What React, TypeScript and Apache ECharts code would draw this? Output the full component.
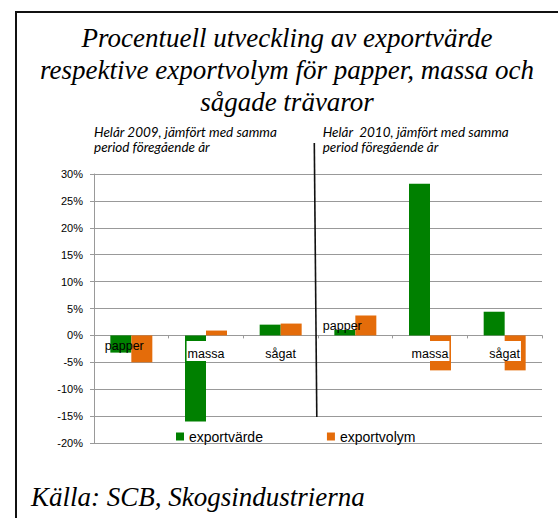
import React, { useEffect, useRef } from 'react';
import * as echarts from 'echarts';

const categories = ['papper', 'massa', 'sågat', 'papper', 'massa', 'sågat'];
const exportvarde = [-3.2, -16.0, 2.0, 1.0, 28.2, 4.4];
const exportvolym = [-5.0, 0.9, 2.2, 3.7, -6.5, -6.5];
const seriesNames = ['exportvärde', 'exportvolym'];
const seriesColors = ['#008000', '#E46C0A'];
const yMin = -20;
const yMax = 30;
const yStep = 5;
const titleText =
  'Procentuell utveckling av exportvärde\nrespektive exportvolym för papper, massa och\nsågade trävaror';
const subtitle2009 = ['Helår 2009, jämfört med samma', 'period föregående år'];
const subtitle2010 = ['Helår  2010, jämfört med samma', 'period föregående år'];
const sourceText = 'Källa: SCB, Skogsindustrierna';

const SERIF = '"Liberation Serif", "Times New Roman", serif';
const SANS = '"Liberation Sans", Arial, sans-serif';

export default function App() {
  const ref = useRef<HTMLDivElement>(null);

  useEffect(() => {
    document.body.style.margin = '0';
    if (!ref.current) return;
    const chart = echarts.init(ref.current, null, { renderer: 'svg' });

    const subtitleTexts: any[] = [];
    [
      { lines: subtitle2009, x: 94 },
      { lines: subtitle2010, x: 322.7 },
    ].forEach((s) => {
      s.lines.forEach((line, i) => {
        subtitleTexts.push({
          type: 'text',
          x: s.x,
          y: 132 + i * 15,
          style: {
            text: line,
            font: `italic 13.5px Lato, sans-serif`,
            fill: '#000',
            textAlign: 'left',
            textVerticalAlign: 'middle',
          },
        });
      });
    });

    const option: any = {
      animation: false,
      backgroundColor: '#ffffff',
      grid: { left: 94, right: 16, top: 174, bottom: 75, containLabel: false },
      legend: {
        data: seriesNames,
        left: 171,
        top: 424.5,
        icon: 'rect',
        itemWidth: 8,
        itemHeight: 8,
        itemGap: 64,
        textStyle: { fontFamily: SANS, fontSize: 14, color: '#000' },
      },
      xAxis: {
        type: 'category',
        data: categories,
        axisLine: { onZero: true, lineStyle: { color: '#999', width: 1 } },
        axisTick: { show: true, length: 3, lineStyle: { color: '#999' } },
        splitLine: { show: false },
        axisLabel: { show: false },
      },
      yAxis: {
        type: 'value',
        min: yMin,
        max: yMax,
        interval: yStep,
        axisLine: { show: true, lineStyle: { color: '#999', width: 1 } },
        axisTick: { show: true, length: 4, lineStyle: { color: '#999' } },
        splitLine: { show: true, lineStyle: { color: '#999', width: 1 } },
        axisLabel: {
          formatter: '{value}%',
          margin: 11,
          color: '#000',
          fontFamily: SANS,
          fontSize: 11,
        },
      },
      series: [
        {
          name: seriesNames[0],
          type: 'bar',
          data: exportvarde,
          barWidth: 21,
          barGap: '0%',
          itemStyle: { color: seriesColors[0] },
        },
        {
          name: seriesNames[1],
          type: 'bar',
          data: exportvolym,
          barWidth: 21,
          barGap: '0%',
          itemStyle: { color: seriesColors[1] },
        },
        {
          name: 'kategorier',
          type: 'scatter',
          silent: true,
          z: 5,
          symbolSize: 0,
          itemStyle: { opacity: 1 },
          data: categories.map(() => 0),
          label: {
            show: true,
            position: 'bottom',
            distance: 0,
            offset: [0, -17],
            opacity: 1,
            color: '#000',
            fontFamily: SANS,
            fontSize: 12.5,
            formatter: (p: any) => {
              const value = categories[p.dataIndex];
              if (value === 'papper') {
                return p.dataIndex < 3 ? `{sp| }\n{pa|${value}}` : `{pc|${value}}`;
              }
              return `{s| }\n{m|${value}}`;
            },
            rich: {
              sp: { fontSize: 1, lineHeight: 19.4 },
              pa: {
                fontFamily: SANS,
                fontSize: 12.5,
                color: '#000',
                lineHeight: 16,
                padding: [0, 14, 0, 0],
              },
              pc: {
                fontFamily: SANS,
                fontSize: 12.5,
                color: '#000',
                lineHeight: 16,
                padding: [0, 26, 0, 0],
              },
              s: { fontSize: 1, lineHeight: 22 },
              m: {
                fontFamily: SANS,
                fontSize: 12.5,
                color: '#000',
                lineHeight: 21,
                backgroundColor: '#ffffff',
                padding: [7, 1, 0, 1],
              },
            },
          },
        },
      ],
      graphic: [
        {
          type: 'rect',
          silent: true,
          z: -10,
          shape: { x: 16, y: 12, width: 700, height: 700 },
          style: { fill: 'none', stroke: '#111', lineWidth: 2 },
        },
        {
          type: 'text',
          x: 287,
          y: 21.6,
          style: {
            text: titleText,
            font: `italic 27px ${SERIF}`,
            fill: '#000',
            textAlign: 'center',
            textVerticalAlign: 'top',
            lineHeight: 32,
          },
        },
        ...subtitleTexts,
        {
          type: 'line',
          silent: true,
          z: 10,
          shape: { x1: 314.3, y1: 143, x2: 316.8, y2: 417 },
          style: { stroke: '#111', lineWidth: 1.6 },
        },
        {
          type: 'text',
          x: 31,
          y: 496.6,
          style: {
            text: sourceText,
            font: `italic 27px ${SERIF}`,
            fill: '#000',
            textAlign: 'left',
            textVerticalAlign: 'middle',
          },
        },
      ],
    };
    chart.setOption(option);
    return () => {
      chart.dispose();
    };
  }, []);

  return (
    <div
      ref={ref}
      style={{ position: 'absolute', left: 0, top: 0, width: 558, height: 518 }}
    />
  );
}
